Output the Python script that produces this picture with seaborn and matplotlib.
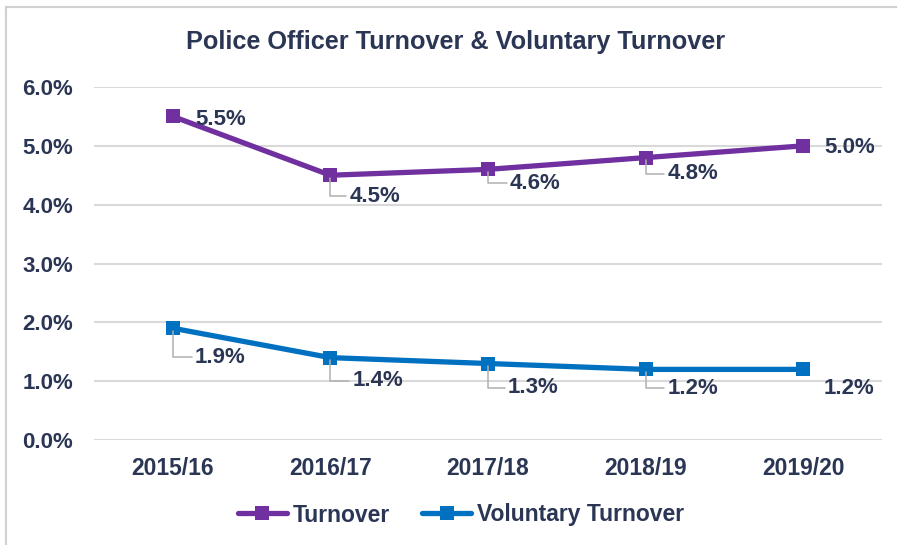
import matplotlib
matplotlib.use("Agg")
import matplotlib.pyplot as plt
from matplotlib.patches import Rectangle
import pandas as pd
import seaborn as sns

years = ["2015/16", "2016/17", "2017/18", "2018/19", "2019/20"]
turnover = [5.5, 4.5, 4.6, 4.8, 5.0]
voluntary = [1.9, 1.4, 1.3, 1.2, 1.2]
series_names = ["Turnover", "Voluntary Turnover"]
y_ticks = [0, 1, 2, 3, 4, 5, 6]

PURPLE = "#7030A0"
BLUE = "#0070C0"
TEXT = "#2B3655"
GRID = "#D9D9D9"

df = pd.DataFrame({
    "year": years * 2,
    "value": turnover + voluntary,
    "series": [series_names[0]] * len(years) + [series_names[1]] * len(years),
})

sns.set_theme(style="white")
plt.rcParams["font.family"] = ["Liberation Sans", "DejaVu Sans"]
plt.rcParams["font.weight"] = "bold"

fig = plt.figure(figsize=(8.97, 5.45), dpi=100)
W, H = 897, 545
ax = fig.add_axes([94 / W, 105 / H, 788 / W, 353 / H])

# light frame around the chart area
fig.patches.append(Rectangle((6 / W, -0.1), 1.2, (545 - 7) / H + 0.1,
                             transform=fig.transFigure, fill=False,
                             edgecolor="#D0D0D0", linewidth=1.5))

sns.lineplot(data=df, x="year", y="value", hue="series",
             palette=[PURPLE, BLUE], marker="s", markersize=10.5,
             markeredgewidth=0, linewidth=3.8, dashes=False, ax=ax,
             legend=False, sort=False)

ax.set_xlim(-0.5, 4.5)
ax.set_ylim(0, 6)
ax.set_yticks(y_ticks)
ax.set_yticklabels([f"{v:.1f}%" for v in y_ticks])
ax.set_xlabel("")
ax.set_ylabel("")
ax.grid(axis="y", color=GRID, linewidth=1.5)
ax.set_axisbelow(True)
for s in ax.spines.values():
    s.set_visible(False)
ax.tick_params(axis="both", length=0, labelcolor=TEXT)
ax.tick_params(axis="y", pad=15, labelsize=16)
ax.tick_params(axis="x", pad=12, labelsize=16.5)
for lab in ax.get_xticklabels() + ax.get_yticklabels():
    lab.set_fontweight("bold")

# data labels: offsets in pixels (right, down); leader drawn where flagged
px = 72 / 100
t_offsets = [(23, 3, False), (19, 21, True), (22, 14, True), (22, 16, True), (21, 2, False)]
v_offsets = [(22, 29, True), (22, 23, True), (20, 24, True), (22, 19, True), (20, 19, False)]
for vals, offs in ((turnover, t_offsets), (voluntary, v_offsets)):
    for i, (v, (dx, dy, lead)) in enumerate(zip(vals, offs)):
        kw = {}
        if lead:
            kw["arrowprops"] = dict(arrowstyle="-", color="#B0B0B0", lw=1.1,
                                    connectionstyle="angle,angleA=0,angleB=90,rad=0",
                                    relpos=(0, 0.5), shrinkA=0, shrinkB=2)
        ax.annotate(f"{v:.1f}%", xy=(i, v), xytext=(dx * px, -dy * px),
                    textcoords="offset points", ha="left", va="center",
                    fontsize=16, fontweight="bold", color=TEXT, **kw)

fig.text(456 / W, 1 - 42 / H, "Police Officer Turnover & Voluntary Turnover",
         ha="center", va="center", fontsize=18.2, fontweight="bold", color=TEXT)

handles = [plt.Line2D([], [], color=c, lw=3.8, marker="s", markersize=10.5,
                      markeredgewidth=0) for c in (PURPLE, BLUE)]
leg = fig.legend(handles, series_names, loc="center", ncol=2,
                 bbox_to_anchor=(461 / W, 1 - 515 / H), frameon=False,
                 handlelength=2.15, handletextpad=0.25, columnspacing=1.4,
                 prop={"size": 16.5, "weight": "bold"})
for t in leg.get_texts():
    t.set_color(TEXT)

fig.savefig("out.png", dpi=100, facecolor="white")
